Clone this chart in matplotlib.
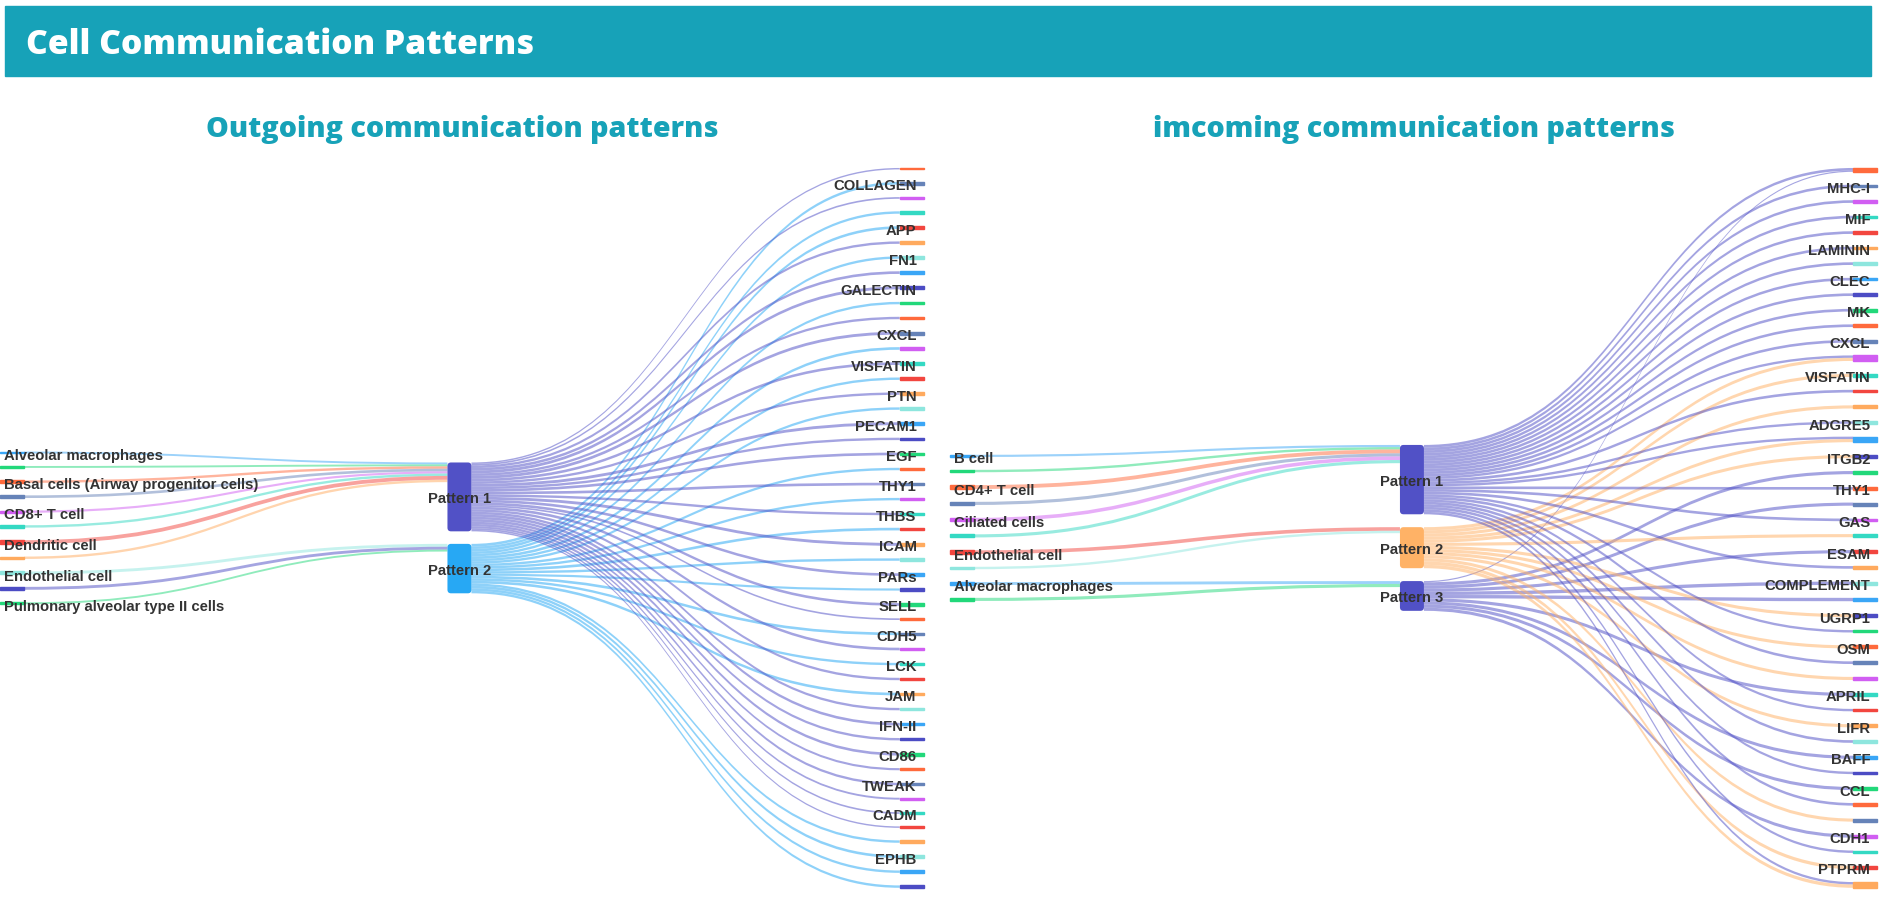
import matplotlib
matplotlib.use("Agg")
import matplotlib.pyplot as plt
from matplotlib.path import Path
from matplotlib.patches import PathPatch, FancyBboxPatch, Rectangle

# lienzo en "px de pantalla" (la imagen final es 1.2x)
W, H = 1568, 766

BLUE = "#3aa6f6"; GREEN = "#22d87a"; ORANGERED = "#ff6a3c"; STEEL = "#6683b8"
PURPLE = "#d15ef2"; TEAL = "#34d9c3"; RED = "#f2463f"; ORANGE = "#ffaa5e"
LTEAL = "#8ee6de"; INDIGO = "#4c4cc4"
ciclo = [ORANGERED, STEEL, PURPLE, TEAL, RED, ORANGE, LTEAL, BLUE, INDIGO, GREEN]

# ---------------- Outgoing ----------------
out_cells = ["Alveolar macrophages", "B cell", "Basal cells (Airway progenitor cells)",
             "CD4+ T cell", "CD8+ T cell", "Ciliated cells", "Dendritic cell", "Fibroblasts",
             "Endothelial cell", "Pulmonary alveolar type I cells",
             "Pulmonary alveolar type II cells"]
out_cell_colors = [BLUE, GREEN, ORANGERED, STEEL, PURPLE, TEAL, RED, ORANGE, LTEAL, INDIGO, GREEN]
out_cell_pattern = [0, 0, 0, 0, 0, 0, 0, 0, 1, 1, 1]
out_cell_value = [1.6, 1.6, 2.0, 2.2, 1.8, 2.0, 3.2, 2.0, 2.4, 2.4, 1.6]
out_cell_shown = ["Alveolar macrophages", "Basal cells (Airway progenitor cells)", "CD8+ T cell",
                  "Dendritic cell", "Endothelial cell", "Pulmonary alveolar type II cells"]

out_patterns = ["Pattern 1", "Pattern 2"]
out_pattern_colors = ["#5151c6", "#27a8f4"]

out_paths = ["LAMININ", "COLLAGEN", "MIF", "SPP1", "APP", "CD99", "FN1", "MK", "GALECTIN",
             "ANNEXIN", "CLEC", "CXCL", "MHC-II", "VISFATIN", "SEMA4", "PTN", "VEGF", "PECAM1",
             "CDH1", "EGF", "ITGB2", "THY1", "ESAM", "THBS", "NOTCH", "ICAM", "CD45", "PARs",
             "TENASCIN", "SELL", "BMP", "CDH5", "CCL", "LCK", "ADGRE5", "JAM", "CD6", "IFN-II",
             "PDGF", "CD86", "SELPLG", "TWEAK", "NECTIN", "CADM", "ANGPTL", "GAS", "EPHB",
             "OCLN", "CD46"]
out_path_pattern = [0, 1, 0, 1, 1, 0, 1, 0, 0, 1, 0, 0, 1, 0, 1, 0, 1, 0, 0, 0, 1, 0, 1, 0, 1,
                    0, 1, 0, 1, 0, 0, 1, 0, 1, 0, 1, 0, 0, 0, 0, 0, 0, 0, 0, 0, 1, 1, 1, 1]
out_path_value = [1.2, 2.2, 1.4, 2.0, 2.2, 2.0, 2.0, 2.2, 2.4, 2.0, 2.0, 2.4, 2.2, 2.2, 2.0,
                  2.0, 2.0, 2.4, 2.0, 2.2, 2.0, 2.2, 2.0, 2.0, 2.2, 2.4, 2.0, 2.2, 1.8, 2.2,
                  1.4, 2.2, 2.2, 2.0, 2.0, 2.2, 2.0, 2.2, 2.0, 2.2, 1.8, 2.0, 1.6, 1.4, 1.2,
                  2.0, 2.2, 2.0, 2.0]
out_path_shown = ["COLLAGEN", "APP", "FN1", "GALECTIN", "CXCL", "VISFATIN", "PTN", "PECAM1",
                  "EGF", "THY1", "THBS", "ICAM", "PARs", "SELL", "CDH5", "LCK", "JAM", "IFN-II",
                  "CD86", "TWEAK", "CADM", "EPHB"]

# ---------------- Incoming ----------------
in_cells = ["B cell", "Basal cells (Airway progenitor cells)", "CD4+ T cell", "CD8+ T cell",
            "Ciliated cells", "Dendritic cell", "Endothelial cell", "Fibroblasts",
            "Alveolar macrophages", "Pulmonary alveolar type II cells"]
in_cell_colors = [BLUE, GREEN, ORANGERED, STEEL, PURPLE, TEAL, RED, LTEAL, BLUE, GREEN]
in_cell_pattern = [0, 0, 0, 0, 0, 0, 1, 1, 2, 2]
in_cell_value = [1.8, 2.0, 3.2, 2.6, 3.0, 2.6, 3.0, 2.0, 2.4, 2.6]
in_cell_shown = ["B cell", "CD4+ T cell", "Ciliated cells", "Endothelial cell",
                 "Alveolar macrophages"]

in_patterns = ["Pattern 1", "Pattern 2", "Pattern 3"]
in_pattern_colors = ["#5151c6", "#ffb266", "#5151c6"]

in_paths = ["MHC-II", "MHC-I", "CD99", "MIF", "APP", "LAMININ", "GALECTIN", "CLEC", "COLLAGEN",
            "MK", "FN1", "CXCL", "PTN", "VISFATIN", "SPP1", "CD45", "ADGRE5", "ANNEXIN", "ITGB2",
            "ICAM", "THY1", "SEMA4", "GAS", "PECAM1", "ESAM", "CDH5", "COMPLEMENT", "SELPLG",
            "UGRP1", "IL16", "OSM", "CD6", "TGFb", "APRIL", "NECTIN", "LIFR", "IFN-II", "BAFF",
            "CD86", "CCL", "TWEAK", "SELL", "CDH1", "JAM", "PTPRM", "EPHB"]
in_link_pattern = [0, 2, 0, 0, 0, 0, 0, 0, 0, 0, 0, 0, 0, 0, 1, 1, 0, 1, 0, 0, 1, 1, 2, 0, 2,
                   0, 1, 2, 0, 2, 2, 1, 0, 1, 0, 1, 2, 0, 1, 0, 2, 0, 2, 0, 1, 2, 0, 1, 1, 0]
in_link_path = [0, 0, 1, 2, 3, 4, 5, 6, 7, 8, 9, 10, 11, 12, 12, 13, 14, 15, 16, 17, 17, 18,
                19, 20, 21, 22, 23, 24, 25, 26, 27, 28, 29, 30, 31, 32, 33, 34, 35, 36, 37, 38,
                39, 40, 41, 42, 43, 44, 45, 45]
in_link_value = [2.2, 1.0, 2.2, 2.2, 2.2, 2.2, 2.2, 2.2, 2.2, 2.2, 2.2, 2.2, 2.2, 2.0, 2.6,
                 2.6, 2.2, 2.6, 2.0, 2.0, 2.6, 2.6, 2.6, 2.2, 2.6, 2.2, 2.6, 2.6, 2.2, 2.8,
                 2.8, 2.6, 2.0, 2.6, 2.2, 2.6, 2.6, 2.0, 2.6, 2.2, 2.6, 2.0, 2.6, 2.2, 2.6,
                 2.6, 2.0, 2.8, 2.8, 2.0]
in_path_shown = ["MHC-I", "MIF", "LAMININ", "CLEC", "MK", "CXCL", "VISFATIN", "ADGRE5", "ITGB2",
                 "THY1", "GAS", "ESAM", "COMPLEMENT", "UGRP1", "OSM", "APRIL", "LIFR", "BAFF",
                 "CCL", "CDH1", "PTPRM"]

TEAL_TITLE = "#17a2b8"
LABEL_KW = dict(family=["Liberation Sans", "DejaVu Sans"], fontsize=10.7,
                fontweight="bold", color="#333333")


def columna(alturas, gap, centro):
    # apila nodos con separacion fija y centra la columna
    total = sum(alturas) + gap * (len(alturas) - 1)
    y = centro - total / 2
    tops = []
    for h in alturas:
        tops.append(y)
        y += h + gap
    return tops


def banda(ax, x0, y0, x1, y1, ancho, color, alpha):
    xm = (x0 + x1) / 2
    verts = [(x0, y0), (xm, y0), (xm, y1), (x1, y1),
             (x1, y1 + ancho), (xm, y1 + ancho), (xm, y0 + ancho), (x0, y0 + ancho),
             (x0, y0)]
    codes = [Path.MOVETO, Path.CURVE4, Path.CURVE4, Path.CURVE4, Path.LINETO,
             Path.CURVE4, Path.CURVE4, Path.CURVE4, Path.CLOSEPOLY]
    ax.add_patch(PathPatch(Path(verts, codes), facecolor=color, edgecolor="none",
                           alpha=alpha, zorder=2))


def panel(ax, xs, cells, cell_colors, cell_pat, cell_val, cell_shown,
          pats, pat_colors, paths, link_pat, link_path, link_val, path_shown,
          y_top=140, y_bot=740, nw=20):
    xl, xm, xr = xs
    centro = (y_top + y_bot) / 2
    # alturas de los nodos de la derecha
    h_der = [0.0] * len(paths)
    for p, v in zip(link_path, link_val):
        h_der[p] += v
    gap = (y_bot - y_top - sum(h_der)) / (len(paths) - 1)
    top_der = columna(h_der, gap, centro)
    top_izq = columna(cell_val, gap, centro)
    h_in = [0.0] * len(pats)
    h_out = [0.0] * len(pats)
    for p, v in zip(cell_pat, cell_val):
        h_in[p] += v
    for p, v in zip(link_pat, link_val):
        h_out[p] += v
    h_pat = [max(a, b) for a, b in zip(h_in, h_out)]
    top_pat = columna(h_pat, gap, centro)

    # enlaces celula -> patron
    off_in = list(top_pat)
    for i in sorted(range(len(cells)), key=lambda i: top_izq[i]):
        p = cell_pat[i]
        banda(ax, xl + nw, top_izq[i], xm, off_in[p], cell_val[i], cell_colors[i], 0.5)
        off_in[p] += cell_val[i]

    # enlaces patron -> via
    off_out = list(top_pat)
    off_der = list(top_der)
    orden = sorted(range(len(link_pat)), key=lambda k: (top_der[link_path[k]], top_pat[link_pat[k]]))
    for k in orden:
        p, d, v = link_pat[k], link_path[k], link_val[k]
        banda(ax, xm + nw, off_out[p], xr, off_der[d], v, pat_colors[p], 0.52)
        off_out[p] += v
        off_der[d] += v

    # nodos
    for i, c in enumerate(cells):
        ax.add_patch(Rectangle((xl, top_izq[i]), nw, cell_val[i], color=cell_colors[i], zorder=3))
        if c in cell_shown:
            ax.text(xl + 3, top_izq[i] + cell_val[i] / 2 + 3, c, ha="left", va="center",
                    zorder=5, **LABEL_KW)
    for j, c in enumerate(paths):
        ax.add_patch(Rectangle((xr, top_der[j]), nw, h_der[j], color=ciclo[j % 10], zorder=3))
        if c in path_shown:
            ax.text(xr + 14, top_der[j] + h_der[j] / 2 + 2.5, c, ha="right", va="center",
                    zorder=5, **LABEL_KW)
    for p, c in enumerate(pats):
        ax.add_patch(FancyBboxPatch((xm, top_pat[p]), nw, h_pat[p],
                                    boxstyle="round,pad=0,rounding_size=3",
                                    facecolor=pat_colors[p], edgecolor="none", zorder=3))
        ax.text(xm + nw / 2, top_pat[p] + h_pat[p] / 2 + 2, c, ha="center", va="center",
                zorder=5, **LABEL_KW)


fig = plt.figure(figsize=(18.81, 9.19), dpi=100)
ax = fig.add_axes([0, 0, 1, 1])
ax.set_xlim(0, W)
ax.set_ylim(H, 0)
ax.axis("off")

# cabecera
ax.add_patch(Rectangle((4, 5), 1556, 58, color=TEAL_TITLE, zorder=1))
ax.text(22, 37.5, "Cell Communication Patterns", color="white", fontsize=24.2,
        fontweight=800, family=["Open Sans", "DejaVu Sans"], va="center", ha="left")

ax.text(385, 108, "Outgoing communication patterns", color=TEAL_TITLE, fontsize=20.6,
        fontweight=800, family=["Open Sans", "DejaVu Sans"], va="center", ha="center")
ax.text(1179, 108, "imcoming communication patterns", color=TEAL_TITLE, fontsize=20.6,
        fontweight=800, family=["Open Sans", "DejaVu Sans"], va="center", ha="center")

panel(ax, (0, 373, 750), out_cells, out_cell_colors, out_cell_pattern, out_cell_value,
      out_cell_shown, out_patterns, out_pattern_colors, out_paths, out_path_pattern,
      list(range(len(out_paths))), out_path_value, out_path_shown)
panel(ax, (792, 1167, 1545), in_cells, in_cell_colors, in_cell_pattern, in_cell_value,
      in_cell_shown, in_patterns, in_pattern_colors, in_paths, in_link_pattern,
      in_link_path, in_link_value, in_path_shown)

fig.savefig("out.png", dpi=100)
